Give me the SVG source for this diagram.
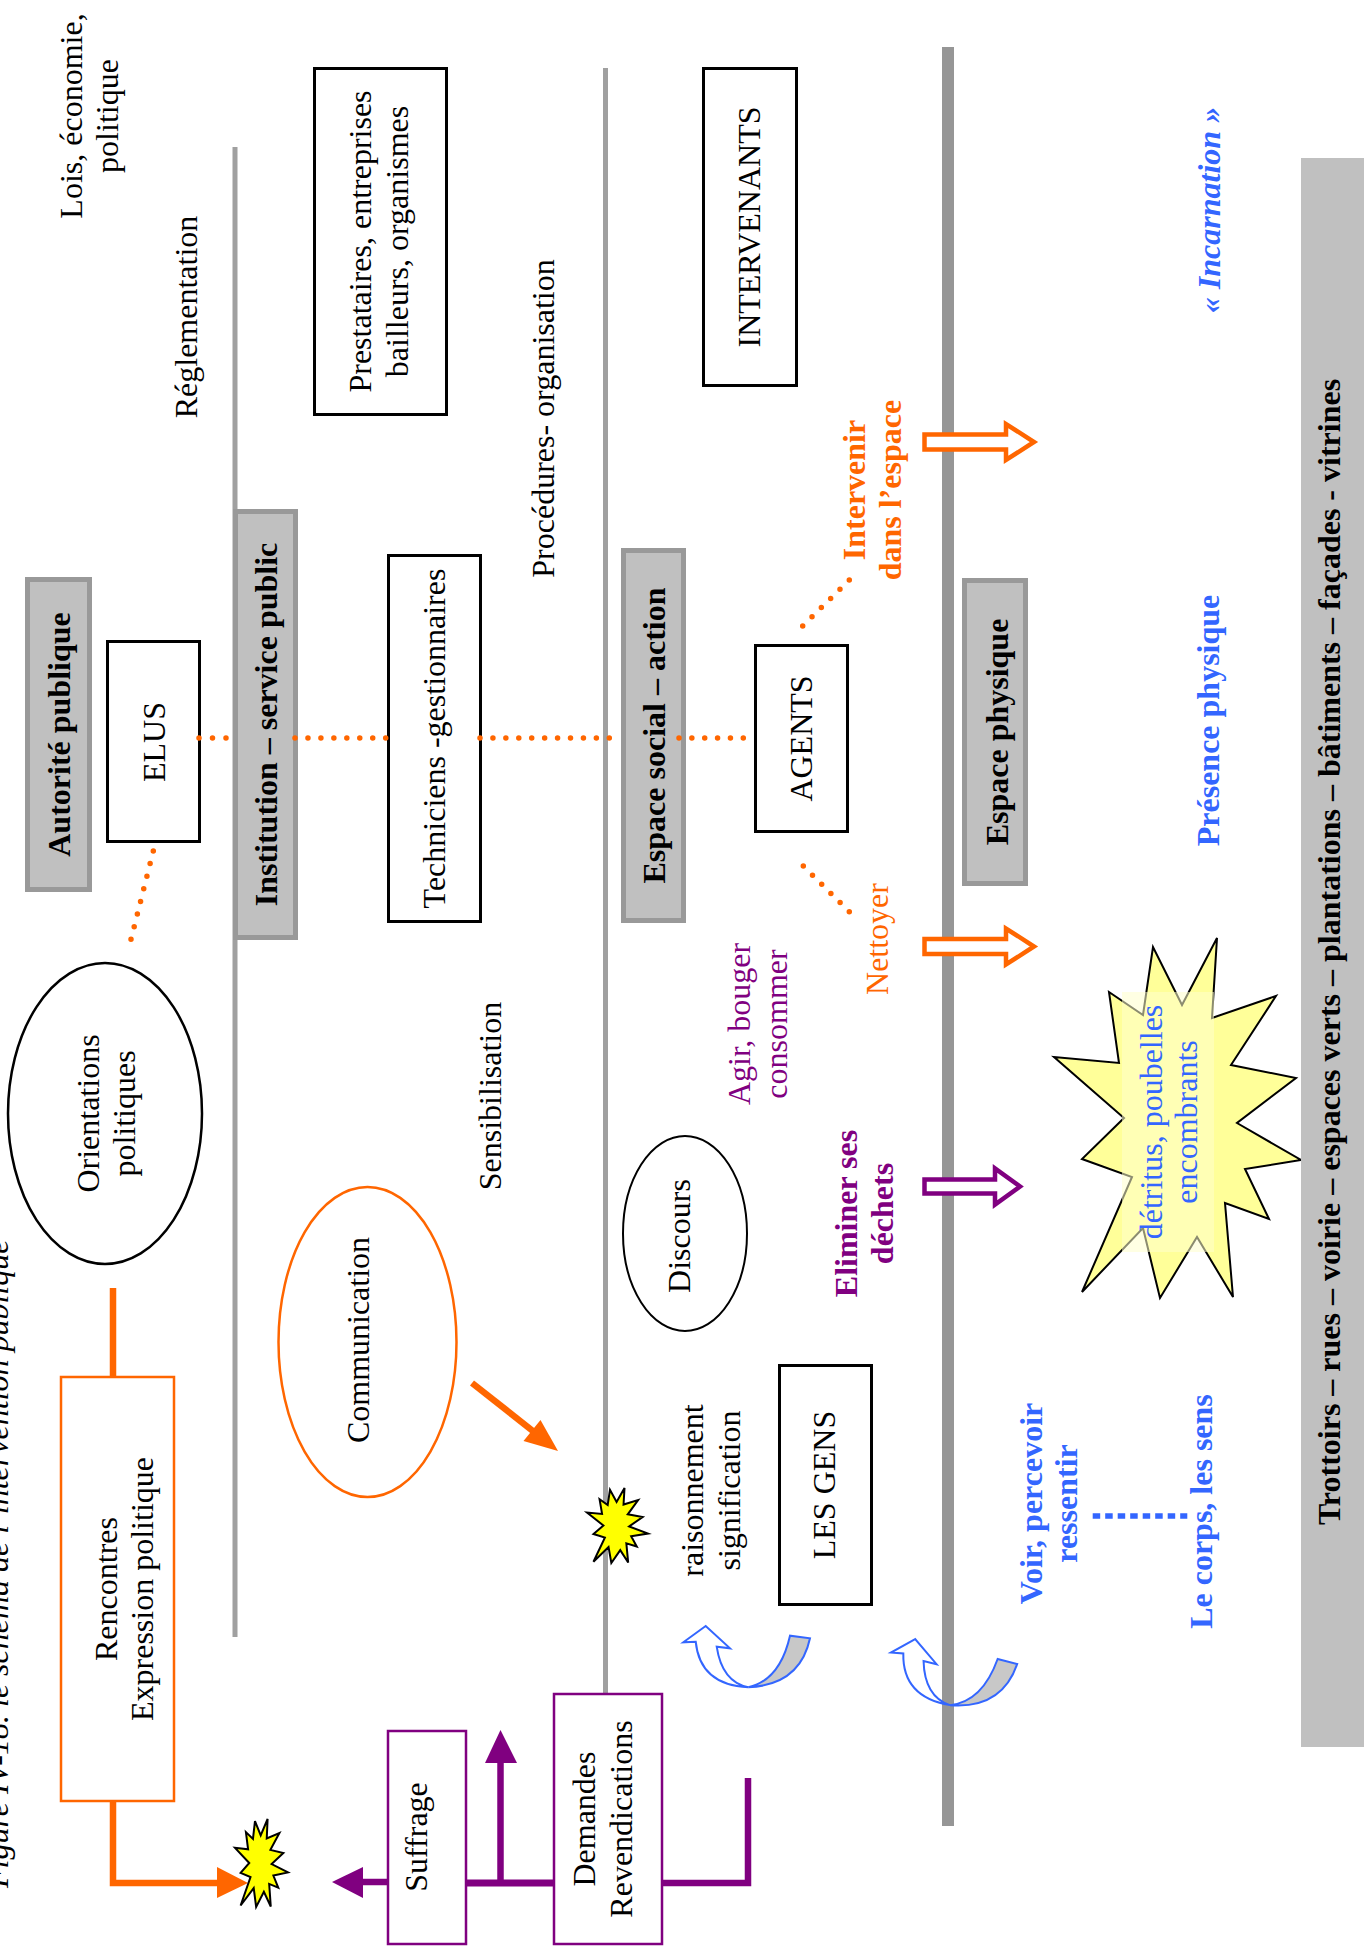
<svg xmlns="http://www.w3.org/2000/svg" width="1365" height="1954" viewBox="0 0 1365 1954">
<style>
text{font-family:"Liberation Serif","Times New Roman",serif;font-size:32px;text-anchor:middle;fill:#000}
.b{font-weight:bold}
.i{font-style:italic}
.or{fill:#ff6600}
.pu{fill:#800080}
.bl{fill:#3366ff}
.sep{stroke:#a0a0a0;stroke-width:5}
.lab{fill:#c0c0c0;stroke:#999;stroke-width:5}
.box{fill:#fff;stroke:#000;stroke-width:3}
.obox{fill:#fff;stroke:#ff6600;stroke-width:2.5}
.pbox{fill:#fff;stroke:#800080;stroke-width:2.5}
.dot{fill:none;stroke:#ff6600;stroke-width:5.5;stroke-linecap:round;stroke-dasharray:0 1}
.blk{fill:#fff;stroke-width:4.5;stroke-linejoin:miter}
.curl{stroke:#3366ff;stroke-width:2;stroke-linejoin:miter}
.seal{fill:#ffff00;stroke:#000}
</style>
<defs>
  <!-- irregular explosion outline, unit square -->
  <path id="seal" vector-effect="non-scaling-stroke" stroke-width="2" d="M0.5,0.269 L0.672,0 L0.655,0.247 L0.851,0.206 L0.773,0.339 L0.977,0.377 L0.815,0.485 L1,0.615 L0.78,0.599 L0.84,0.838 L0.649,0.668 L0.613,0.912 L0.488,0.691 L0.393,1 L0.357,0.724 L0.22,0.816 L0.262,0.645 L0.006,0.675 L0.172,0.545 L0,0.399 L0.214,0.353 L0.017,0.106 L0.339,0.293 L0.387,0.106 Z"/>
  <!-- curved U-turn arrow -->
  <g id="curl">
    <path fill="#fff" d="M705.7,1626 L683.3,1642.3 L695.7,1641.7 Q700,1685 748.3,1687.3 Q722,1682 716.7,1646.7 L730,1648.3 Z"/>
    <path fill="#c8c8c8" d="M748.3,1687.3 Q800,1685 810,1638.3 L790,1635.7 Q780,1680 748.3,1687.3 Z"/>
  </g>
</defs>

<!-- caption along the left edge -->
<g id="caption"><text class="i" style="text-anchor:start" transform="translate(8,1888) rotate(-90)">Figure IV-18. le schéma de l’intervention publique</text></g>

<!-- level separators -->
<g id="separators">
  <line class="sep" x1="235" y1="147" x2="235" y2="1637"/>
  <line class="sep" x1="605.5" y1="68" x2="605.5" y2="1693"/>
  <line x1="948" y1="47" x2="948" y2="1826" stroke="#969696" stroke-width="12"/>
</g>

<!-- level titles and side notes -->
<g id="lois"><text transform="translate(82,116) rotate(-90)"><tspan x="0" y="0">Lois, économie,</tspan><tspan x="0" y="36">politique</tspan></text></g>
<g id="reglementation"><text transform="translate(197,317) rotate(-90)">Réglementation</text></g>
<g id="procedures"><text transform="translate(554,418.5) rotate(-90)">Procédures- organisation</text></g>
<g id="sensibilisation"><text transform="translate(501,1096) rotate(-90)">Sensibilisation</text></g>
<g id="incarnation"><text class="b i bl" transform="translate(1220,210) rotate(-90)">« Incarnation »</text></g>
<g id="presence"><text class="b bl" transform="translate(1219,720.5) rotate(-90)">Présence physique</text></g>

<g id="autorite">
  <rect class="lab" x="27.5" y="579.5" width="62" height="310"/>
  <text class="b" transform="translate(70,734.5) rotate(-90)">Autorité publique</text>
</g>
<g id="institution">
  <rect class="lab" x="235.5" y="511.5" width="60" height="426"/>
  <text class="b" transform="translate(277,724.5) rotate(-90)">Institution – service public</text>
</g>
<g id="espace-social">
  <rect class="lab" x="623.5" y="550.5" width="60" height="370"/>
  <text class="b" transform="translate(665,735.5) rotate(-90)">Espace social – action</text>
</g>
<g id="espace-physique">
  <rect class="lab" x="964.5" y="580.5" width="61" height="303"/>
  <text class="b" transform="translate(1008,732) rotate(-90)">Espace physique</text>
</g>

<!-- actors -->
<g id="prestataires">
  <rect class="box" x="314.5" y="68.5" width="132" height="346"/>
  <text transform="translate(371,241.5) rotate(-90)"><tspan x="0" y="0">Prestataires, entreprises</tspan><tspan x="0" y="37">bailleurs, organismes</tspan></text>
</g>
<g id="intervenants">
  <rect class="box" x="703.5" y="68.5" width="93" height="317"/>
  <text transform="translate(760,227) rotate(-90)">INTERVENANTS</text>
</g>
<g id="elus">
  <rect class="box" x="107.5" y="641.5" width="92" height="200"/>
  <text transform="translate(165,742) rotate(-90)">ELUS</text>
</g>
<g id="techniciens">
  <rect class="box" x="388.5" y="555.5" width="92" height="366"/>
  <text transform="translate(445,738.5) rotate(-90)">Techniciens -gestionnaires</text>
</g>
<g id="agents">
  <rect class="box" x="755.5" y="645.5" width="92" height="186"/>
  <text transform="translate(812,738.5) rotate(-90)">AGENTS</text>
</g>
<g id="les-gens">
  <rect class="box" x="779.5" y="1365.5" width="92" height="239"/>
  <text transform="translate(835,1485) rotate(-90)">LES GENS</text>
</g>

<g id="orientations">
  <ellipse cx="105" cy="1113.5" rx="97" ry="150.5" fill="#fff" stroke="#000" stroke-width="2.5"/>
  <text transform="translate(99,1113.5) rotate(-90)"><tspan x="0" y="0">Orientations</tspan><tspan x="0" y="36">politiques</tspan></text>
</g>
<g id="communication">
  <ellipse cx="367.5" cy="1342" rx="89" ry="155" fill="#fff" stroke="#ff6600" stroke-width="2.5"/>
  <text transform="translate(369,1340) rotate(-90)">Communication</text>
</g>
<g id="discours">
  <ellipse cx="685" cy="1233.5" rx="62" ry="97.5" fill="#fff" stroke="#000" stroke-width="2"/>
  <text transform="translate(690,1236) rotate(-90)">Discours</text>
</g>
<g id="rencontres">
  <rect class="obox" x="61" y="1377" width="113" height="424"/>
  <text transform="translate(117,1589) rotate(-90)"><tspan x="0" y="0">Rencontres</tspan><tspan x="0" y="36">Expression politique</tspan></text>
</g>
<g id="suffrage">
  <rect class="pbox" x="388" y="1731" width="78" height="213"/>
  <text transform="translate(427,1837) rotate(-90)">Suffrage</text>
</g>
<g id="demandes">
  <rect class="pbox" x="554" y="1694" width="108" height="250"/>
  <text transform="translate(595,1819) rotate(-90)"><tspan x="0" y="0">Demandes</tspan><tspan x="0" y="37">Revendications</tspan></text>
</g>

<!-- actions and perceptions -->
<g id="intervenir"><text class="b or" transform="translate(865,490) rotate(-90)"><tspan x="0" y="0">Intervenir</tspan><tspan x="0" y="36">dans l’espace</tspan></text></g>
<g id="nettoyer"><text class="or" transform="translate(888,939) rotate(-90)">Nettoyer</text></g>
<g id="agir"><text class="pu" transform="translate(750,1024) rotate(-90)"><tspan x="0" y="0">Agir, bouger</tspan><tspan x="0" y="37">consommer</tspan></text></g>
<g id="eliminer"><text class="b pu" transform="translate(857,1213.5) rotate(-90)"><tspan x="0" y="0">Eliminer ses</tspan><tspan x="0" y="36">déchets</tspan></text></g>
<g id="raisonnement"><text transform="translate(703,1490.5) rotate(-90)"><tspan x="0" y="0">raisonnement</tspan><tspan x="0" y="37">signification</tspan></text></g>
<g id="voir"><text class="b bl" transform="translate(1042,1503.5) rotate(-90)"><tspan x="0" y="0">Voir, percevoir</tspan><tspan x="0" y="35">ressentir</tspan></text></g>
<g id="corps"><text class="b bl" transform="translate(1212,1511.5) rotate(-90)">Le corps, les sens</text></g>

<!-- litter burst -->
<g id="detritus">
  <polygon fill="#ffff99" stroke="#000" stroke-width="2" points="1109,992 1119,1063 1054,1057 1124,1118 1082,1159 1132,1177 1082,1292 1143,1228 1160,1298 1197,1237 1233,1297 1225,1203 1269,1219 1245,1169 1301,1160 1237,1123 1296,1078 1231,1065 1276,996 1212,1018 1217,938 1182,1005 1153,947 1143,1015"/>
  <rect x="1122" y="992" width="92" height="260" fill="#ffffcc" fill-opacity="0.55"/>
  <text class="bl" transform="translate(1162,1122) rotate(-90)"><tspan x="0" y="0">détritus, poubelles</tspan><tspan x="0" y="35">encombrants</tspan></text>
</g>

<!-- physical ground band -->
<g id="trottoirs">
  <rect x="1301" y="158" width="63" height="1589" fill="#c0c0c0"/>
  <text class="b" transform="translate(1340,952) rotate(-90)">Trottoirs – rues – voirie – espaces verts – plantations – bâtiments – façades - vitrines</text>
</g>

<g id="connectors">
  <!-- dotted hierarchy links -->
  <path class="dot" pathLength="2.001" d="M199,738 H226"/>
  <path class="dot" pathLength="7.001" d="M295,738 H385.7"/>
  <path class="dot" pathLength="10.001" d="M480,738 H609.3"/>
  <path class="dot" pathLength="5.001" d="M679,738 H743.3"/>
  <path class="dot" pathLength="7.001" d="M153.3,851 L131,939.3"/>
  <path class="dot" pathLength="5.001" d="M802.7,626 L849.3,580"/>
  <path class="dot" pathLength="5.001" d="M803.3,866 L849.3,911.7"/>

  <!-- orange political links -->
  <line x1="113" y1="1288" x2="113" y2="1376" stroke="#ff6600" stroke-width="6.5"/>
  <path d="M113,1802 V1883 H220" fill="none" stroke="#ff6600" stroke-width="6.5"/>
  <polygon points="217,1867 248,1883 217,1898" fill="#ff6600"/>
  <line x1="472" y1="1383" x2="536" y2="1433.5" stroke="#ff6600" stroke-width="6.5"/>
  <polygon points="558,1451 523.5,1441 540.5,1420" fill="#ff6600"/>

  <!-- purple citizen links -->
  <line x1="388" y1="1882" x2="360" y2="1882" stroke="#800080" stroke-width="6.5"/>
  <polygon points="332,1882 363,1867 363,1898" fill="#800080"/>
  <line x1="466" y1="1883" x2="554" y2="1883" stroke="#800080" stroke-width="7"/>
  <line x1="500.5" y1="1883" x2="500.5" y2="1760" stroke="#800080" stroke-width="6.5"/>
  <polygon points="500.5,1730 485,1763 517,1763" fill="#800080"/>
  <path d="M662,1883 H748 V1778" fill="none" stroke="#800080" stroke-width="6.5"/>

  <!-- block arrows into physical space -->
  <path class="blk" stroke="#ff6600" d="M924.5,434.5 H1006 V424 L1034,442 L1006,460 V449.5 H924.5 Z"/>
  <path class="blk" stroke="#ff6600" d="M924.5,939 H1006 V928.5 L1034,946.5 L1006,964.5 V954 H924.5 Z"/>
  <path class="blk" stroke="#800080" d="M924.5,1179.5 H995 V1168.5 L1020,1186.5 L995,1204.5 V1193.5 H924.5 Z"/>

  <!-- perception loops -->
  <use href="#curl" class="curl"/>
  <use href="#curl" class="curl" transform="translate(205,18) rotate(7,748,1660)"/>

  <!-- body / senses link -->
  <line x1="1092.7" y1="1516" x2="1187.3" y2="1516" stroke="#3366ff" stroke-width="5.5" stroke-dasharray="7.5 5"/>
</g>

<!-- friction points -->
<g id="spark-vote"><use href="#seal" class="seal" transform="matrix(0,-88,53,0,235,1907)"/></g>
<g id="spark-people"><use href="#seal" class="seal" transform="matrix(0,-75,61,0,587,1563)"/></g>
</svg>
